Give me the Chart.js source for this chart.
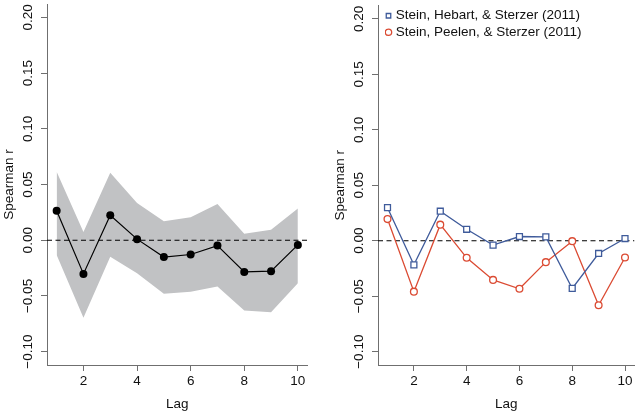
<!DOCTYPE html>
<html>
<head>
<meta charset="utf-8">
<script src="https://cdn.jsdelivr.net/npm/chart.js@4/dist/chart.umd.min.js"></script>
<style>
html,body{margin:0;padding:0;background:#ffffff;}
#wrap{position:relative;width:640px;height:412px;overflow:hidden;background:#fff;}
.panel{position:absolute;top:0;height:412px;}
</style>
</head>
<body>
<div id="wrap">
  <div class="panel" style="left:0;width:320px;"><canvas id="c1" width="320" height="412"></canvas></div>
  <div class="panel" style="left:331px;width:309px;"><canvas id="c2" width="309" height="412"></canvas></div>
</div>
<script>
// ---- data ----
const lags = [1, 2, 3, 4, 5, 6, 7, 8, 9, 10];
const combinedR = [0.0265, -0.0302, 0.0224, 0.0010, -0.0151, -0.0128, -0.0048, -0.0284, -0.0278, -0.0042];
const bandUpper = [0.0615, 0.0074, 0.0607, 0.0334, 0.0171, 0.0207, 0.0325, 0.0059, 0.0094, 0.0284];
const bandLower = [-0.0133, -0.0696, -0.0148, -0.0296, -0.0480, -0.0462, -0.0415, -0.0630, -0.0646, -0.0385];
const hebartR = [0.0298, -0.0217, 0.0266, 0.0103, -0.0039, 0.0038, 0.0035, -0.0430, -0.0115, 0.0020];
const peelenR = [0.0195, -0.0459, 0.0145, -0.0154, -0.0353, -0.0433, -0.0193, -0.0004, -0.0581, -0.0151];
const seriesNames = ['Stein, Hebart, & Sterzer (2011)', 'Stein, Peelen, & Sterzer (2011)'];
const xTicks = [2, 4, 6, 8, 10];
const yTicks = [-0.10, -0.05, 0.00, 0.05, 0.10, 0.15, 0.20];
const X_MIN = 0.64, X_MAX = 10.36;
const Y_MIN = -0.112, Y_MAX = 0.212;
const xTitle = 'Lag';
const yTitle = 'Spearman r';

// ---- styles ----
const FONT = {family: '"Liberation Sans", Arial, Helvetica, sans-serif', size: 13.5};
const TEXT = '#111111';
const AXIS = '#6f6f6f';
const BAND = '#c1c2c4';
const BLUE = '#3f5b9b';
const RED = '#db4b33';

Chart.defaults.font.family = FONT.family;
Chart.defaults.font.size = FONT.size;
Chart.defaults.color = TEXT;

const pts = (ys) => lags.map((x, i) => ({x: x, y: ys[i]}));
const zeroLine = () => ({
  data: [{x: X_MIN, y: 0}, {x: X_MAX, y: 0}],
  borderColor: '#000', borderWidth: 1.2, borderDash: [5, 3.5],
  pointRadius: 0, fill: false, order: 1
});

function scales() {
  return {
    x: {
      type: 'linear', min: X_MIN, max: X_MAX,
      afterBuildTicks: s => { s.ticks = xTicks.map(v => ({value: v})); },
      afterFit: s => { s.height = 47; },
      ticks: {font: FONT, color: TEXT, padding: 2, maxRotation: 0, autoSkip: false,
              callback: v => String(v)},
      grid: {display: true, drawOnChartArea: false, drawTicks: true, tickLength: 6, tickColor: AXIS, tickWidth: 1},
      border: {display: true, color: AXIS, width: 1},
      title: {display: true, text: xTitle, font: FONT, color: TEXT, padding: {top: 0, bottom: 0}}
    },
    y: {
      type: 'linear', min: Y_MIN, max: Y_MAX,
      afterBuildTicks: s => { s.ticks = yTicks.map(v => ({value: v})); },
      afterFit: s => { s.width = 47; },
      ticks: {font: FONT, color: TEXT, padding: -4, minRotation: 90, maxRotation: 90,
              crossAlign: 'center', autoSkip: false,
              callback: v => v.toFixed(2).replace('-', '\u2212')},
      grid: {display: true, drawOnChartArea: false, drawTicks: true, tickLength: 6, tickColor: AXIS, tickWidth: 1},
      border: {display: true, color: AXIS, width: 1},
      title: {display: true, text: yTitle, font: FONT, color: TEXT, padding: {top: 1.5, bottom: 0}}
    }
  };
}

// ---- left panel ----
new Chart(document.getElementById('c1'), {
  type: 'line',
  data: {
    datasets: [
      {data: pts(combinedR), borderColor: '#000', borderWidth: 1.2, backgroundColor: '#000',
       pointRadius: 4, pointBackgroundColor: '#000', pointBorderColor: '#000', pointBorderWidth: 0,
       fill: false, order: 0},
      zeroLine(),
      {data: pts(bandLower), borderColor: 'rgba(0,0,0,0)', borderWidth: 0, pointRadius: 0, fill: false, order: 2},
      {data: pts(bandUpper), borderColor: 'rgba(0,0,0,0)', borderWidth: 0, pointRadius: 0,
       backgroundColor: BAND, fill: '-1', order: 3}
    ]
  },
  options: {
    responsive: false, animation: false, devicePixelRatio: 1,
    layout: {padding: {left: 0, right: 12.5, top: 0, bottom: 0}},
    plugins: {legend: {display: false}, tooltip: {enabled: false}},
    scales: scales()
  }
});

// nudge the in-plot legend a little to the right (layout only)
const legendNudge = {
  id: 'legendNudge',
  afterLayout(chart) {
    if (chart.legend) { chart.legend.left += 7; chart.legend.right += 7; }
  }
};

// ---- right panel ----
new Chart(document.getElementById('c2'), {
  type: 'line',
  data: {
    datasets: [
      {label: seriesNames[0], data: pts(hebartR), borderColor: BLUE, borderWidth: 1.3, backgroundColor: '#fff',
       pointStyle: 'rect', pointRadius: 4.2, pointBackgroundColor: '#fff', pointBorderColor: BLUE,
       pointBorderWidth: 1.3, fill: false, order: 0},
      {label: seriesNames[1], data: pts(peelenR), borderColor: RED, borderWidth: 1.3, backgroundColor: '#fff',
       pointStyle: 'circle', pointRadius: 3.4, pointBackgroundColor: '#fff', pointBorderColor: RED,
       pointBorderWidth: 1.3, fill: false, order: 1},
      Object.assign(zeroLine(), {label: 'zero', order: 2})
    ]
  },
  options: {
    responsive: false, animation: false, devicePixelRatio: 1,
    layout: {padding: {left: 0, right: 0.5, top: 0, bottom: 0}},
    plugins: {
      tooltip: {enabled: false},
      legend: {
        display: true, position: 'chartArea', align: 'start',
        title: {display: true, text: '', padding: 0, font: {size: 5}},
        labels: {
          usePointStyle: true, boxWidth: 1, boxHeight: 4.5, padding: 3,
          font: FONT, color: TEXT,
          filter: item => item.datasetIndex < 2
        }
      }
    },
    scales: scales()
  },
  plugins: [legendNudge]
});
</script>
</body>
</html>
